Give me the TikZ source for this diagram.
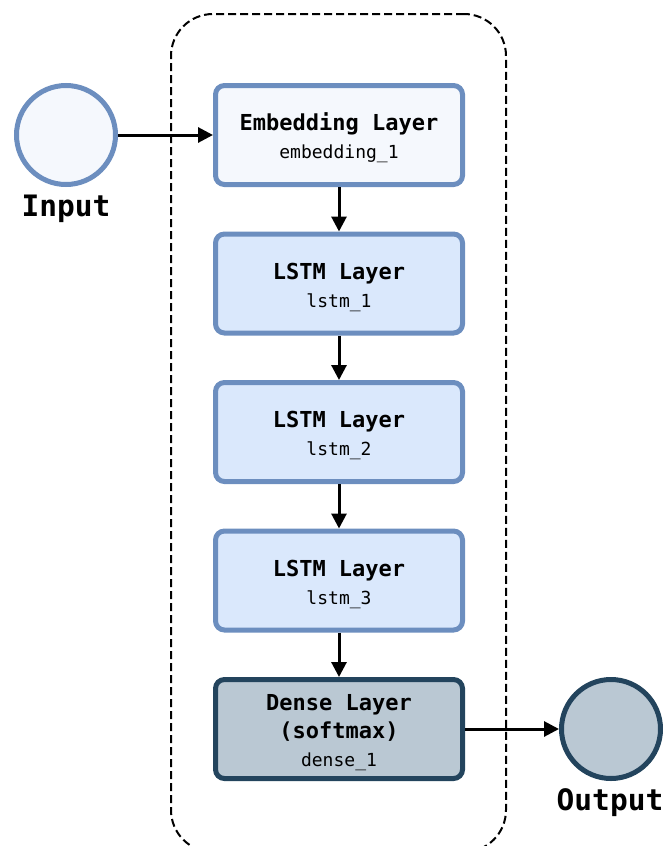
\documentclass[tikz,border=0pt]{standalone}
\usepackage{fontspec}
\setmonofont{DejaVu Sans Mono}
\usetikzlibrary{arrows.meta}

\definecolor{palefill}{HTML}{F5F8FD}
\definecolor{lstmfill}{HTML}{DAE8FC}
\definecolor{blueedge}{HTML}{6C8EBF}
\definecolor{densefill}{HTML}{BAC8D3}
\definecolor{denseedge}{HTML}{23445D}

\tikzset{
  layerbox/.style={draw=blueedge, fill=lstmfill, line width=5pt, rounded corners=9pt,
    minimum width=247pt, minimum height=99pt, inner sep=0pt, align=center,
    font=\ttfamily\fontsize{18}{28}\selectfont},
  ionode/.style={circle, line width=5pt, minimum size=99pt, inner sep=0pt},
  iolabel/.style={font=\ttfamily\bfseries\fontsize{29.5}{32}\selectfont, inner sep=0pt},
  flow/.style={line width=3pt, -{Triangle[length=15pt,width=15pt]}},
  groupbox/.style={draw=black, line width=2pt, dash pattern=on 8pt off 4pt,
    rounded corners=42pt, minimum width=335pt, minimum height=838pt, inner sep=0pt},
}
% bold heading line of a layer box; the strut lowers the text block a little
\newcommand{\layertitle}[1]{{\bfseries\fontsize{22}{28}\selectfont\rule{0pt}{24pt}#1}}
\newcommand{\layersub}[1]{{\bfseries\fontsize{22}{28}\selectfont #1}}

\begin{document}
\begin{tikzpicture}[x=1pt, y=-1pt]
  \useasboundingbox (0,0) rectangle (663,846);
  \clip (0,0) rectangle (663,846);

  % model container
  \node[groupbox] (model) at (338.5,433) {};

  % input and output terminals
  \node[ionode, draw=blueedge, fill=palefill] (input) at (66,135) {};
  \node[iolabel] (inlabel) at (66,209) {Input};
  \node[ionode, draw=denseedge, fill=densefill] (output) at (611,729) {};
  \node[iolabel] (outlabel) at (610,803) {Output};

  % stacked layers
  \node[layerbox, fill=palefill] (emb) at (339,135)
    {\layertitle{Embedding Layer}\\embedding\_1};
  \node[layerbox] (lstm1) at (339,283.5) {\layertitle{LSTM Layer}\\lstm\_1};
  \node[layerbox] (lstm2) at (339,432) {\layertitle{LSTM Layer}\\lstm\_2};
  \node[layerbox] (lstm3) at (339,580.5) {\layertitle{LSTM Layer}\\lstm\_3};
  \node[layerbox, draw=denseedge, fill=densefill] (dense) at (339,729)
    {\layertitle{Dense Layer}\\\layersub{(softmax)}\\dense\_1};

  % data flow
  \draw[flow] (input) -- (emb);
  \draw[flow] (emb) -- (lstm1);
  \draw[flow] (lstm1) -- (lstm2);
  \draw[flow] (lstm2) -- (lstm3);
  \draw[flow] (lstm3) -- (dense);
  \draw[flow] (dense) -- (output);
\end{tikzpicture}
\end{document}
